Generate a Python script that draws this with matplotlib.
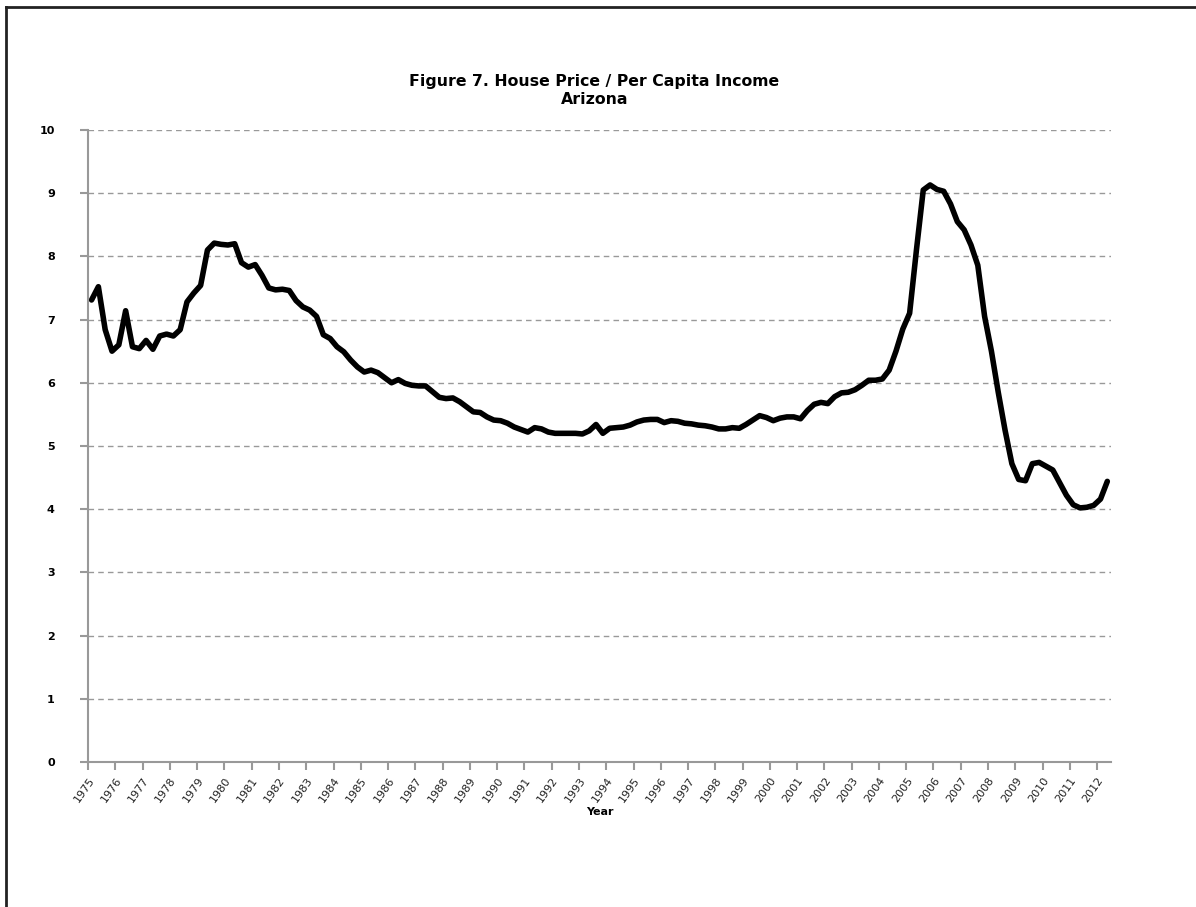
import numpy as np
from matplotlib import pyplot as plt
from matplotlib.lines import Line2D

# quarterly ratio, 1975Q1 .. 2012Q2
ratio = [
    7.31, 7.52, 6.84, 6.50, 6.60, 7.14, 6.57, 6.54, 6.67, 6.53,
    6.74, 6.77, 6.74, 6.84, 7.28, 7.42, 7.54, 8.10, 8.21, 8.19,
    8.18, 8.20, 7.90, 7.83, 7.87, 7.70, 7.50, 7.47, 7.48, 7.46,
    7.30, 7.20, 7.15, 7.05, 6.76, 6.70, 6.57, 6.49, 6.36, 6.25,
    6.17, 6.20, 6.16, 6.08, 6.00, 6.05, 5.99, 5.96, 5.95, 5.95,
    5.86, 5.77, 5.75, 5.76, 5.70, 5.62, 5.54, 5.53, 5.46, 5.41,
    5.40, 5.36, 5.30, 5.26, 5.22, 5.29, 5.27, 5.22, 5.20, 5.20,
    5.20, 5.20, 5.19, 5.24, 5.34, 5.20, 5.28, 5.29, 5.30, 5.33,
    5.38, 5.41, 5.42, 5.42, 5.37, 5.40, 5.39, 5.36, 5.35, 5.33,
    5.32, 5.30, 5.27, 5.27, 5.29, 5.28, 5.34, 5.41, 5.48, 5.45,
    5.40, 5.44, 5.46, 5.46, 5.43, 5.56, 5.66, 5.69, 5.67, 5.78,
    5.84, 5.85, 5.89, 5.96, 6.04, 6.04, 6.06, 6.20, 6.50, 6.85,
    7.10, 8.10, 9.05, 9.13, 9.06, 9.03, 8.83, 8.55, 8.42, 8.18,
    7.86, 7.05, 6.50, 5.85, 5.25, 4.72, 4.47, 4.45, 4.72, 4.74,
    4.68, 4.62, 4.42, 4.22, 4.07, 4.02, 4.03, 4.06, 4.16, 4.44,
]
years = list(range(1975, 2013))

# position each quarter in the middle of its slot
quarters = 1975 + (np.arange(len(ratio)) + 0.5) / 4

fig = plt.figure(figsize=(11.96, 9.07), dpi=100)
ax = fig.add_axes([0.0737, 0.1599, 0.855, 0.6968])

ax.plot(quarters, ratio, color='black', linewidth=4,
        solid_joinstyle='round', solid_capstyle='round')

ax.set_xlim(1975, 1975 + len(ratio) / 4)
ax.set_ylim(0, 10)
ax.set_yticks(range(0, 11))
ax.set_yticklabels([str(v) for v in range(0, 11)], fontsize=8, fontweight='bold')
ax.set_xticks(years)
ax.set_xticklabels([str(y) for y in years], rotation=55, ha='right',
                   rotation_mode='anchor', fontsize=8, color='#222222')

ax.grid(axis='y', color='#999999', linestyle=(0, (4, 3)), linewidth=1)
ax.set_axisbelow(True)
for side in ['top', 'right']:
    ax.spines[side].set_visible(False)
for side in ['left', 'bottom']:
    ax.spines[side].set_color('#999999')
    ax.spines[side].set_linewidth(1.5)
ax.tick_params(axis='both', color='#999999', width=1.5, length=6)
ax.tick_params(axis='y', pad=18)

ax.set_xlabel('Year', fontsize=8, fontweight='bold', labelpad=2)

fig.text(0.497, 0.9, 'Figure 7. House Price / Per Capita Income\nArizona',
         ha='center', va='center', fontsize=11.3, fontweight='bold',
         linespacing=1.3)

# frame around the chart area
fig.add_artist(Line2D([0.005, 0.005], [0, 0.992], color='#222222', linewidth=2))
fig.add_artist(Line2D([0.005, 1.0], [0.992, 0.992], color='#222222', linewidth=2))

plt.savefig('out.png', dpi=100)
